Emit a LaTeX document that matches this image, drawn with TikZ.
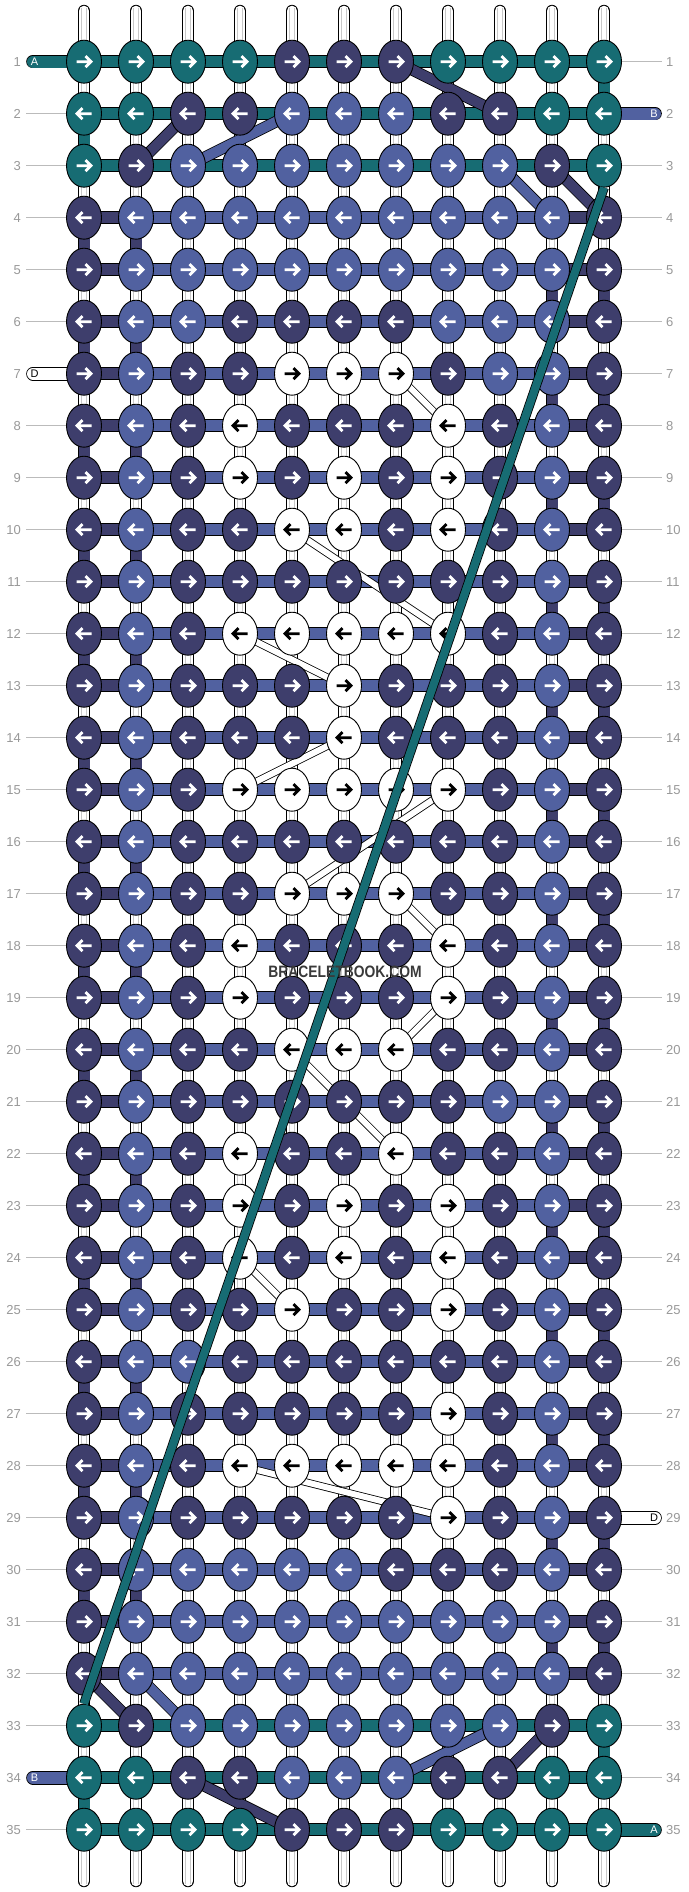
\documentclass[tikz,border=0pt]{standalone}
\usepackage{fontspec}
\setmainfont{Liberation Sans}
\usetikzlibrary{shapes.geometric}
\definecolor{cT}{HTML}{176C73}
\definecolor{cN}{HTML}{3E3E6C}
\definecolor{cP}{HTML}{5161A0}
\definecolor{cW}{HTML}{FFFFFF}
\colorlet{aT}{white}\colorlet{aN}{white}\colorlet{aP}{white}\colorlet{aW}{black}
\definecolor{numgray}{HTML}{999999}
\definecolor{lgray}{HTML}{BBBBBB}
\definecolor{sgray}{HTML}{C8C8C8}
\definecolor{txtgray}{HTML}{3A3A3A}
\pgfdeclarelayer{bg}\pgfdeclarelayer{mid}\pgfdeclarelayer{top}
\pgfsetlayers{bg,mid,main,top}
\newcommand\bandseg[3]{\draw[line width=12.6] (#2.center) -- (#3.center); \draw[line width=11,#1] (#2.center) -- (#3.center);}
\newcommand\cdiag[3]{\draw[line width=11.6] (#2.center) -- (#3.center); \draw[line width=10,#1] (#2.center) -- (#3.center);}
\newcommand\wdiag[2]{\draw[line width=7.6] (#1.center) -- (#2.center); \draw[line width=6,white] (#1.center) -- (#2.center);}
\begin{document}
\begin{tikzpicture}[x=1pt,y=-1pt,
  knot/.style={ellipse,draw=black,line width=0.9,minimum width=35,minimum height=43,inner sep=0pt},
  arr/.style={line width=2.8,line cap=butt,line join=miter},
  rownum/.style={text=numgray,font=\fontsize{13}{13}\selectfont,inner sep=0pt},
  tablabel/.style={font=\fontsize{11}{11}\selectfont,inner sep=0pt},
  guide/.style={draw=lgray,line width=1.1}]
\useasboundingbox (0,0) rectangle (688,1892);
% knots
\foreach \r/\cl in {
 1/{T,T,T,T,N,N,N,T,T,T,T},
 2/{T,T,N,N,P,P,P,N,N,T,T},
 3/{T,N,P,P,P,P,P,P,P,N,T},
 4/{N,P,P,P,P,P,P,P,P,P,N},
 5/{N,P,P,P,P,P,P,P,P,P,N},
 6/{N,P,P,N,N,N,N,P,P,P,N},
 7/{N,P,N,N,W,W,W,N,P,P,N},
 8/{N,P,N,W,N,N,N,W,N,P,N},
 9/{N,P,N,W,N,W,N,W,N,P,N},
 10/{N,P,N,N,W,W,N,W,N,P,N},
 11/{N,P,N,N,N,N,N,N,N,P,N},
 12/{N,P,N,W,W,W,W,W,N,P,N},
 13/{N,P,N,N,N,W,N,N,N,P,N},
 14/{N,P,N,N,N,W,N,N,N,P,N},
 15/{N,P,N,W,W,W,W,W,N,P,N},
 16/{N,P,N,N,N,N,N,N,N,P,N},
 17/{N,P,N,N,W,W,W,N,N,P,N},
 18/{N,P,N,W,N,N,N,W,N,P,N},
 19/{N,P,N,W,N,N,N,W,N,P,N},
 20/{N,P,N,N,W,W,W,N,N,P,N},
 21/{N,P,N,N,N,N,N,N,P,P,N},
 22/{N,P,N,W,N,N,W,N,N,P,N},
 23/{N,P,N,W,N,W,N,W,N,P,N},
 24/{N,P,N,W,N,W,N,W,N,P,N},
 25/{N,P,N,N,W,N,N,W,N,P,N},
 26/{N,P,P,N,N,N,N,N,N,P,N},
 27/{N,P,N,N,N,N,N,W,N,P,N},
 28/{N,P,N,W,W,W,W,W,N,P,N},
 29/{N,P,N,N,N,N,N,W,N,P,N},
 30/{N,P,P,P,P,P,N,N,N,P,N},
 31/{N,P,P,P,P,P,P,P,P,P,N},
 32/{N,P,P,P,P,P,P,P,P,P,N},
 33/{T,N,P,P,P,P,P,P,P,N,T},
 34/{T,T,N,N,P,P,P,N,N,T,T},
 35/{T,T,T,T,N,N,N,T,T,T,T}} {
  \foreach \k [count=\c] in \cl {
    \pgfmathsetmacro\X{84+52*(\c-1)}
    \pgfmathsetmacro\Y{61.7+52*(\r-1)}
    \node[knot,fill=c\k] (k\r-\c) at (\X,\Y) {};
    \ifodd\r\relax
      \draw[arr,draw=a\k] (\X-7.5,\Y) -- (\X+6.5,\Y) (\X+1.5,\Y-5.5) -- (\X+7,\Y) -- (\X+1.5,\Y+5.5);
    \else
      \draw[arr,draw=a\k] (\X+7.5,\Y) -- (\X-6.5,\Y) (\X-1.5,\Y-5.5) -- (\X-7,\Y) -- (\X-1.5,\Y+5.5);
    \fi
  }
}
\begin{pgfonlayer}{bg}
\fill[white] (0,0) rectangle (688,1892);
% guide lines and row numbers
\foreach \r in {1,...,35} {
  \pgfmathsetmacro\Y{61.7+52*(\r-1)}
  \node[rownum,anchor=east] (ln\r) at (21,\Y) {\r};
  \node[rownum,anchor=west] (rn\r) at (666,\Y) {\r};
}
\foreach \r in {2,3,4,5,6,8,9,10,11,12,13,14,15,16,17,18,19,20,21,22,23,24,25,26,27,28,29,30,31,32,33,35} {
  \pgfmathsetmacro\Y{61.7+52*(\r-1)}
  \draw[guide] (26,\Y) -- (k\r-1.center);
}
\foreach \r in {1,3,4,5,6,7,8,9,10,11,12,13,14,15,16,17,18,19,20,21,22,23,24,25,26,27,28,30,31,32,33,34} {
  \pgfmathsetmacro\Y{61.7+52*(\r-1)}
  \draw[guide] (k\r-11.center) -- (662,\Y);
}
% vertical strings
\foreach \c in {1,...,11} {
  \pgfmathsetmacro\X{84+52*(\c-1)}
  \draw[line width=12.4,line cap=round] (\X,11) -- (\X,1881);
  \draw[white,line width=10.6,line cap=round] (\X,11) -- (\X,1881);
  \draw[sgray,line width=0.7] (\X-2.4,8) -- (\X-2.4,1884) (\X+2.4,8) -- (\X+2.4,1884);
}
% coloured vertical segments
\bandseg{cT}{k1-11}{k2-11}
\bandseg{cT}{k2-1}{k3-1}
\bandseg{cT}{k33-11}{k34-11}
\bandseg{cT}{k34-1}{k35-1}
\foreach \r in {4,6,...,30} {
  \pgfmathtruncatemacro\rn{\r+1}
  \bandseg{cN}{k\r-1}{k\rn-1}
  \bandseg{cN}{k\r-2}{k\rn-2}
}
\foreach \r in {5,7,...,31} {
  \pgfmathtruncatemacro\rn{\r+1}
  \bandseg{cN}{k\r-10}{k\rn-10}
  \bandseg{cN}{k\r-11}{k\rn-11}
}
% horizontal bars
\foreach \r in {1,2,3,33,34,35} {
  \bandseg{cT}{k\r-1}{k\r-11}
}
\foreach \r in {4,...,32} {
  \bandseg{cN}{k\r-1}{k\r-2}
  \bandseg{cP}{k\r-2}{k\r-10}
  \bandseg{cN}{k\r-10}{k\r-11}
}
% thread ends
\coordinate (tA1) at (33,61.7);
\coordinate (tB2) at (655,113.7);
\coordinate (tD7) at (33,373.7);
\coordinate (tD29) at (655,1517.7);
\coordinate (tB34) at (33,1777.7);
\coordinate (tA35) at (655,1829.7);
\foreach \a/\b/\col in {tA1/k1-1/cT, tB2/k2-11/cP, tD7/k7-1/white, tD29/k29-11/white, tB34/k34-1/cP, tA35/k35-11/cT} {
  \draw[line width=13.6,line cap=round] (\a) -- (\b.center);
  \draw[line width=12,line cap=round,\col] (\a) -- (\b.center);
}
\end{pgfonlayer}
\node[tablabel,text=white] at ([xshift=1.5]tA1) {A};
\node[tablabel,text=white] at ([xshift=-1]tB2) {B};
\node[tablabel,text=black] at ([xshift=1.5]tD7) {D};
\node[tablabel,text=black] at ([xshift=-1]tD29) {D};
\node[tablabel,text=white] at ([xshift=1.5]tB34) {B};
\node[tablabel,text=white] at ([xshift=-1]tA35) {A};
\begin{pgfonlayer}{mid}
\cdiag{cN}{k1-7}{k2-9}
\cdiag{cN}{k2-3}{k3-2}
\cdiag{cP}{k2-5}{k3-3}
\cdiag{cP}{k3-9}{k4-10}
\cdiag{cN}{k3-10}{k4-11}
\cdiag{cN}{k32-1}{k33-2}
\cdiag{cP}{k32-2}{k33-3}
\cdiag{cP}{k33-9}{k34-7}
\cdiag{cN}{k33-10}{k34-9}
\cdiag{cN}{k34-3}{k35-5}
\wdiag{k7-7}{k8-8}
\wdiag{k10-5}{k12-8}
\wdiag{k12-4}{k13-6}
\wdiag{k14-6}{k15-4}
\wdiag{k15-8}{k17-5}
\wdiag{k17-7}{k18-8}
\wdiag{k19-8}{k20-7}
\wdiag{k20-5}{k22-7}
\wdiag{k24-4}{k25-5}
\wdiag{k28-4}{k29-8}
\end{pgfonlayer}
\begin{pgfonlayer}{top}
\draw[line width=9.6] (k3-11.south) -- (k33-1.north);
\draw[line width=8,cT] (k3-11.south) -- (k33-1.north);
\node[font=\fontsize{16.5}{16.5}\selectfont\bfseries,text=txtgray,xscale=0.84,inner sep=0pt] (wm) at (345,972) {BRACELETBOOK.COM};
\end{pgfonlayer}
\end{tikzpicture}
\end{document}
